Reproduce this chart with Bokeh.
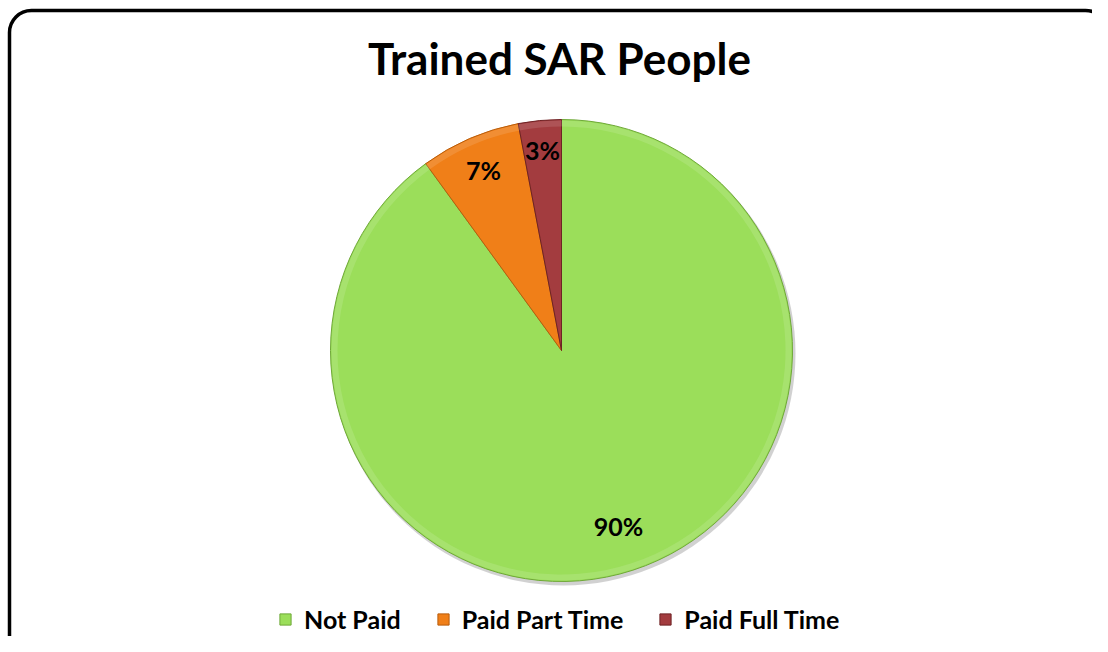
import math
from bokeh.plotting import figure
from bokeh.models import Range1d, Legend, LegendItem, ColumnDataSource, BoxAnnotation
from bokeh.core.properties import value
from bokeh.embed import file_html
from bokeh.resources import INLINE

# ---- data ----
categories = ["Not Paid", "Paid Part Time", "Paid Full Time"]
shares = [90, 7, 3]
label_texts = ["90%", "7%", "3%"]
colors = ["#9BDE5A", "#F07F18", "#A33C3F"]
edge_colors = ["#6FA838", "#B85D0C", "#6E2224"]
title_text = "Trained SAR People"

# ---- layout (y_data = 652 - y_screen) ----
W, H = 1092, 636
p = figure(width=W, height=H, output_backend="svg", toolbar_location=None,
           x_range=Range1d(0, W), y_range=Range1d(652 - H, 652),
           min_border=0, match_aspect=False)
p.axis.visible = False
p.grid.visible = False
p.outline_line_color = None
p.background_fill_color = "white"
p.border_fill_color = "white"

# frame
frame = BoxAnnotation(left=9, right=1107, top=652 - 10, bottom=-20,
                      fill_alpha=0, line_color="black", line_alpha=1.0,
                      line_width=3.5, border_radius=22)
p.add_layout(frame)

cx, cy, R = 561, 652 - 350, 231

total = sum(shares)
starts, ends, mids = [], [], []
cum = 0.0
for s in shares:
    a0 = math.pi / 2 - 2 * math.pi * cum / total
    cum += s
    a1 = math.pi / 2 - 2 * math.pi * cum / total
    starts.append(a0)
    ends.append(a1)
    mids.append((a0 + a1) / 2)

src = ColumnDataSource(dict(start=starts, end=ends, color=colors,
                            edge=edge_colors, cat=categories))

# soft shadow
p.circle(x=cx + 2, y=cy - 3, radius=R + 1, fill_color="#000000",
         fill_alpha=0.18, line_color=None)

wr = p.wedge(x=cx, y=cy, radius=R, start_angle="start", end_angle="end",
             direction="clock", fill_color="color", line_color="edge",
             line_width=1, source=src)

# bevel highlight
p.annular_wedge(x=cx, y=cy, inner_radius=R - 7, outer_radius=R - 1,
                start_angle="start", end_angle="end", direction="clock",
                fill_color="white", fill_alpha=0.12, line_color=None, source=src)

# data labels
label_r = [0.80, 0.85, 0.87]
lx = [cx + f * R * math.cos(m) for f, m in zip(label_r, mids)]
ly = [cy + f * R * math.sin(m) for f, m in zip(label_r, mids)]
p.text(x=lx, y=ly, text=label_texts, text_font=value("Lato"),
       text_font_size="25px", text_font_style="bold", text_color="black",
       text_align="center", text_baseline="middle")

# title
p.text(x=[559], y=[652 - 57], text=[title_text], text_font=value("Lato"),
       text_font_size="44px", text_font_style="bold", text_color="black",
       text_align="center", text_baseline="alphabetic")

legend = Legend(items=[LegendItem(label=c, renderers=[wr], index=i)
                       for i, c in enumerate(categories)],
                orientation="horizontal", location=(278, 2),
                padding=0, margin=0, spacing=35, label_standoff=12,
                glyph_width=14, glyph_height=14, label_height=26,
                label_text_font="Lato", label_text_font_size="25px",
                label_text_font_style="bold", label_text_color="black",
                border_line_alpha=0, background_fill_alpha=0)
p.add_layout(legend)

open("out.html", "w").write(file_html(p, INLINE))
